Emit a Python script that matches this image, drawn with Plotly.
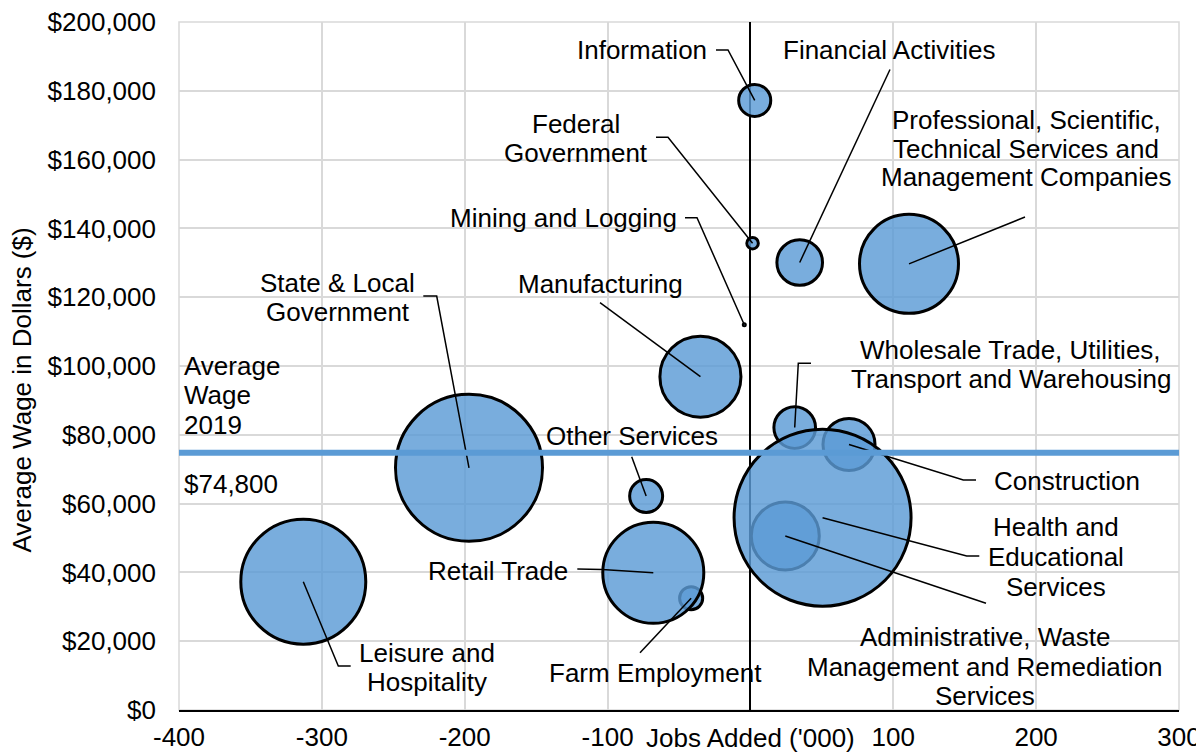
import plotly.graph_objects as go

# ---------------- data ----------------
sectors = [
    "Leisure and Hospitality", "State & Local Government", "Manufacturing",
    "Information", "Federal Government", "Mining and Logging",
    "Financial Activities", "Professional, Scientific, Technical Services and Management Companies",
    "Other Services", "Farm Employment", "Retail Trade",
    "Administrative, Waste Management and Remediation Services",
    "Wholesale Trade, Utilities, Transport and Warehousing", "Construction",
    "Health and Educational Services",
]
jobs_added = [-313, -197, -35, 3, 1.5, -4.3, 34.5, 111, -73, -41.5, -68, 24.4, 31, 69, 50.5]
avg_wage = [37300, 70400, 96900, 177200, 135700, 112000, 130100, 129700,
            62200, 32500, 39900, 50600, 82100, 77200, 55900]
employment = [1011, 1389, 436, 76, 13, 1.5, 146, 642, 80, 42, 668, 311, 123, 187, 2000]

x_ticks = [-400, -300, -200, -100, 0, 100, 200, 300]
x_tick_text = ["-400", "-300", "-200", "-100", "", "100", "200", "300"]
y_ticks = [0, 20000, 40000, 60000, 80000, 100000, 120000, 140000, 160000, 180000, 200000]
y_tick_text = [f"${v:,}" for v in y_ticks]
avg_wage_2019 = 74800

# ---------------- layout helpers ----------------
PAGE_W, PAGE_H = 1204, 753
OFF = 8                      # default body margin of the html page
W, H = PAGE_W - OFF, PAGE_H - OFF
PL, PR, PT, PB = 179, 1179, 22, 710   # plot area in page pixels
ML, MT = PL - OFF, PT - OFF
MR, MB = PAGE_W - PR, PAGE_H - PB
PW, PH = PR - PL, PB - PT
XR = [-400, 300]
YR = [0, 200000]


def X(px):
    return XR[0] + (px - PL) * (XR[1] - XR[0]) / PW


def Y(py):
    return YR[0] + (PB - py) * (YR[1] - YR[0]) / PH


FONT = "Liberation Sans, Arial, sans-serif"
FS = 26
BLUE = "rgb(91,155,213)"
GRID = "#d9d9d9"

max_emp = max(employment)
sizes = [max(2 * 90 * (e / max_emp) ** 0.5 - 3, 3) for e in employment]
line_w = [2 if s <= 4 else 3 for s in sizes]

fig = go.Figure()
fig.add_trace(go.Scatter(
    x=jobs_added, y=avg_wage, mode="markers", text=sectors,
    marker=dict(size=sizes, sizemode="diameter", color="rgba(91,155,213,0.82)",
                opacity=1, line=dict(color="black", width=line_w)),
    hovertemplate="%{text}<br>%{x}<br>$%{y:,}<extra></extra>",
    showlegend=False,
))

# label lines: (text, center px x, center px y, xanchor) in page pixels
labels = [
    ("Information", 642, 50, "center"),
    ("Financial Activities", 889, 50, "center"),
    ("Professional, Scientific,", 1026, 120, "center"),
    ("Technical Services and", 1026, 148.5, "center"),
    ("Management Companies", 1026, 177, "center"),
    ("Federal", 576, 123.5, "center"),
    ("Government", 576, 153, "center"),
    ("Mining and Logging", 563, 217.5, "center"),
    ("Manufacturing", 600.5, 284, "center"),
    ("State & Local", 337.5, 283, "center"),
    ("Government", 337.5, 312, "center"),
    ("Average", 182, 365.5, "left"),
    ("Wage", 182, 395, "left"),
    ("2019", 182, 424.5, "left"),
    ("$74,800", 182, 484, "left"),
    ("Other Services", 632, 436, "center"),
    ("Wholesale Trade, Utilities,", 1010, 349.5, "center"),
    ("Transport and Warehousing", 1011, 379, "center"),
    ("Construction", 1067, 480.5, "center"),
    ("Health and", 1056, 527, "center"),
    ("Educational", 1056, 557, "center"),
    ("Services", 1056, 587, "center"),
    ("Retail Trade", 498, 571, "center"),
    ("Leisure and", 427, 652.5, "center"),
    ("Hospitality", 427, 681.5, "center"),
    ("Farm Employment", 655, 673, "center"),
    ("Administrative, Waste", 985, 637, "center"),
    ("Management and Remediation", 985, 666.5, "center"),
    ("Services", 985, 696, "center"),
]
annotations = []
for t, px, py, anc in labels:
    annotations.append(dict(
        text=t, x=X(px), y=Y(py), xref="x", yref="y", showarrow=False,
        xanchor=anc, yanchor="middle", font=dict(family=FONT, size=FS, color="black"),
    ))

annotations.append(dict(
    text="Jobs Added ('000)", x=0, y=(PB - 738.5) / PH, xref="x", yref="paper",
    showarrow=False, xanchor="center", yanchor="middle",
    font=dict(family=FONT, size=FS, color="black"),
))
annotations.append(dict(
    text="Average Wage in Dollars ($)", x=0, y=(PB - 390) / PH, xref="paper",
    yref="paper", xshift=21.5 - PL, showarrow=False, textangle=-90,
    xanchor="center", yanchor="middle", font=dict(family=FONT, size=FS, color="black"),
))

# leader lines: label-side waypoints in page px, end at the bubble centre (index into data)
leaders = [
    ([(716, 50), (728, 50)], 3),
    ([(890, 69.5)], 6),
    ([(1025, 217)], 7),
    ([(656, 137.3), (668, 137.3)], 4),
    ([(685, 217.7), (697, 217.7)], 5),
    ([(600, 302.7)], 2),
    ([(423.3, 296), (436.7, 296)], 1),
    ([(631.7, 456.7)], 8),
    ([(811, 363.3), (798.3, 363.3)], 12),
    ([(976, 480), (963.3, 480)], 13),
    ([(979.3, 556), (966.7, 556)], 14),
    ([(986, 603.3)], 11),
    ([(577.3, 569), (602, 569.5)], 10),
    ([(640, 652.7)], 9),
    ([(350.7, 666), (338.3, 666)], 0),
]
shapes = [
    # plot-area border (gridline colour), drawn beneath the data
    dict(type="rect", xref="paper", yref="paper", x0=0, x1=1, y0=0, y1=1,
         line=dict(color=GRID, width=1.5), fillcolor="rgba(0,0,0,0)", layer="below"),
]
for pts, idx in leaders:
    coords = [(X(a), Y(b)) for a, b in pts] + [(jobs_added[idx], avg_wage[idx])]
    path = "M " + " L ".join(f"{cx},{cy}" for cx, cy in coords)
    shapes.append(dict(type="path", path=path, xref="x", yref="y",
                       line=dict(color="black", width=1.5), layer="above"))

# average wage line
shapes.append(dict(type="line", xref="paper", yref="y", x0=0, x1=1,
                   y0=avg_wage_2019, y1=avg_wage_2019,
                   line=dict(color=BLUE, width=6), layer="above"))

fig.update_layout(
    width=W, height=H,
    margin=dict(l=ML, r=MR, t=MT, b=MB, pad=0, autoexpand=False),
    paper_bgcolor="white", plot_bgcolor="white",
    font=dict(family=FONT, size=FS, color="black"),
    annotations=annotations, shapes=shapes,
    xaxis=dict(range=XR, tickvals=x_ticks, ticktext=x_tick_text, showgrid=True,
               gridcolor=GRID, gridwidth=1.5, zeroline=True, zerolinecolor="black",
               zerolinewidth=1.5, showline=True, linecolor="black", linewidth=2,
               ticks="", tickfont=dict(family=FONT, size=FS), fixedrange=True,
               ticklabelstandoff=3, ticklabeloverflow="allow", automargin=False),
    yaxis=dict(range=YR, tickvals=y_ticks, ticktext=y_tick_text,
               showgrid=True, gridcolor=GRID, gridwidth=1.5, zeroline=False,
               showline=False, ticks="", tickfont=dict(family=FONT, size=FS),
               ticklabelstandoff=22, ticklabeloverflow="allow", fixedrange=True,
               automargin=False),
)

fig.write_html("out.html")
